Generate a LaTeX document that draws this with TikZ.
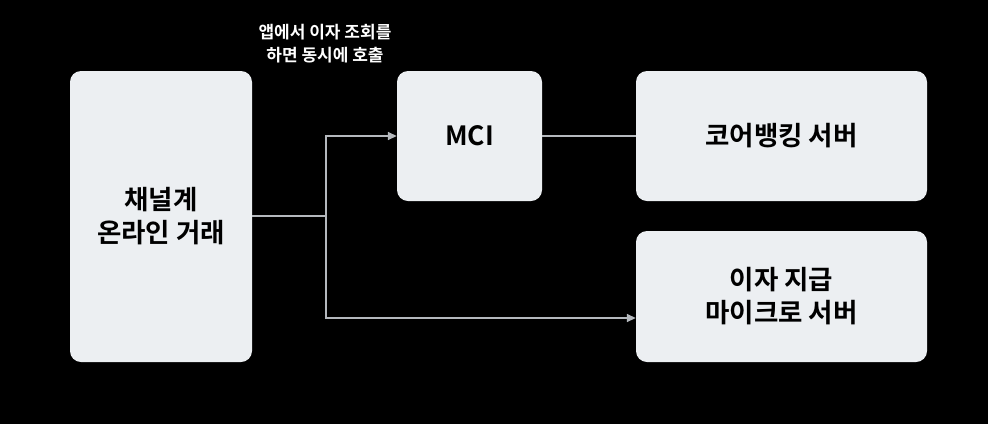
\documentclass[tikz,border=0pt]{standalone}
\usepackage{fontspec}
\setmainfont{Noto Sans CJK KR}
\newfontfamily\krbold{Noto Sans CJK KR Bold}
\usetikzlibrary{arrows.meta}
\definecolor{boxfill}{HTML}{ECEFF2}
\definecolor{wire}{HTML}{B4B8BD}
\newcommand\tightlines{\lineskiplimit=-20pt\relax\lineskip=0pt\relax}
\begin{document}
\begin{tikzpicture}[x=1pt,y=-1pt,
  card/.style={draw=none,fill=boxfill,rounded corners=11pt,inner sep=0pt,align=center,
    font=\krbold\fontsize{26.5}{33}\selectfont\tightlines,text=black},
  wireline/.style={draw=wire,line width=1.6pt},
  arr/.style={wireline,-{Triangle[length=9pt,width=8pt]}}]
\useasboundingbox (0,0) rectangle (988,424);
\fill[black] (0,0) rectangle (988,424);
\node[card,minimum width=182pt,minimum height=291pt] (chan) at (161,216.5) {채널계\\온라인 거래};
\node[card,minimum width=145pt,minimum height=130pt] (mci) at (469.5,136) {MCI};
\node[card,minimum width=291pt,minimum height=130pt] (core) at (781.5,136) {코어뱅킹 서버};
\node[card,minimum width=291pt,minimum height=131pt] (pay) at (781.5,296.5) {이자 지급\\마이크로 서버};
\node[text=white,align=center,font=\krbold\fontsize{17}{23}\selectfont\tightlines] (lbl) at (325,43.5) {앱에서 이자 조회를\\하면 동시에 호출};
\coordinate (split) at (326,216);
\draw[wireline] (chan.east |- split) -- (split);
\draw[arr] (split) |- (mci.west);
\draw[arr] (split) |- (pay.west |- 0,318);
\draw[wireline] (mci.east) -- (core.west);
\end{tikzpicture}
\end{document}
